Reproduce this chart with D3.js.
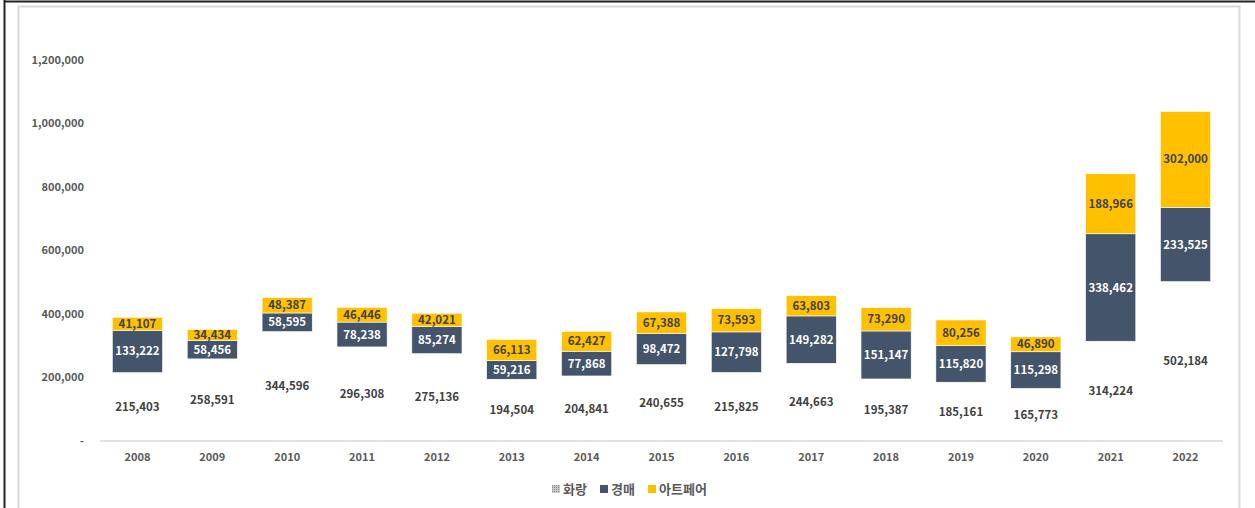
<!DOCTYPE html>
<html>
<head>
<meta charset="utf-8">
<script src="https://cdn.jsdelivr.net/npm/d3@7"></script>
<style>
  body { margin: 0; background: #fff; }
  svg { display: block; font-family: "Noto Sans CJK KR", "Noto Sans", sans-serif; }
</style>
</head>
<body>
<div id="chart"></div>
<script>
// data
var years = ["2008","2009","2010","2011","2012","2013","2014","2015","2016","2017","2018","2019","2020","2021","2022"];
var gallery = [215403,258591,344596,296308,275136,194504,204841,240655,215825,244663,195387,185161,165773,314224,502184];
var auction = [133222,58456,58595,78238,85274,59216,77868,98472,127798,149282,151147,115820,115298,338462,233525];
var artfair = [41107,34434,48387,46446,42021,66113,62427,67388,73593,63803,73290,80256,46890,188966,302000];
var seriesNames = ["화랑","경매","아트페어"];
var yTicks = [0,200000,400000,600000,800000,1000000,1200000];

var W = 1255, H = 508;
var svg = d3.select("#chart").append("svg").attr("width", W).attr("height", H);

// frame
svg.append("rect").attr("x", 18.5).attr("y", 6.5).attr("width", 1221).attr("height", 510)
  .style("fill", "#fff").style("stroke", "#d9d9d9").style("stroke-width", 2);
svg.append("line").attr("x1", 4).attr("x2", W).attr("y1", 1.5).attr("y2", 1.5)
  .style("stroke", "#222").style("stroke-width", 2);
svg.append("line").attr("x1", 4.5).attr("x2", 4.5).attr("y1", 0).attr("y2", H)
  .style("stroke", "#222").style("stroke-width", 2);

var defs = svg.append("defs");
var pat = defs.append("pattern").attr("id", "hatch").attr("patternUnits", "userSpaceOnUse")
  .attr("width", 2).attr("height", 2);
pat.append("rect").attr("width", 2).attr("height", 2).style("fill", "#c8c8c8");
pat.append("rect").attr("width", 1).attr("height", 1).style("fill", "#8c8c8c");

var x = d3.scaleBand().domain(years).range([100, 1223]).paddingInner(0.33).paddingOuter(0.165);
var y = d3.scaleLinear().domain([0, 1200000]).range([441, 60]);
var fmt = d3.format(",");

// y axis labels
svg.append("g").selectAll("text").data(yTicks).enter().append("text")
  .attr("x", 84).attr("y", function(d) { return y(d); })
  .attr("dy", "0.35em").attr("text-anchor", "end")
  .style("font-size", "11px").style("font-weight", "bold").style("fill", "#595959")
  .text(function(d) { return d === 0 ? "-" : fmt(d); });

// x axis
svg.append("line").attr("x1", 100).attr("x2", 1223).attr("y1", y(0)).attr("y2", y(0))
  .style("stroke", "#d9d9d9").style("stroke-width", 1.5);
svg.append("g").selectAll("text").data(years).enter().append("text")
  .attr("x", function(d) { return x(d) + x.bandwidth() / 2; })
  .attr("y", 457).attr("dy", "0.35em").attr("text-anchor", "middle")
  .style("font-size", "11px").style("font-weight", "bold").style("fill", "#595959")
  .text(function(d) { return d; });

// stacked data
var rows = years.map(function(yr, i) {
  return {year: yr, g: gallery[i], a: auction[i], f: artfair[i]};
});
var stack = d3.stack().keys(["g", "a", "f"])(rows);
var fills = ["none", "#44546A", "#FFC000"];
var labelColors = ["#404040", "#ffffff", "#404040"];

stack.forEach(function(layer, k) {
  var g = svg.append("g");
  if (k > 0) {
    g.selectAll("rect").data(layer).enter().append("rect")
      .attr("x", function(d) { return x(d.data.year); })
      .attr("width", x.bandwidth())
      .attr("y", function(d) { return y(d[1]); })
      .attr("height", function(d) { return y(d[0]) - y(d[1]); })
      .style("fill", fills[k])
      .style("stroke", "#ffffff").style("stroke-width", 0.6);
  }
  g.selectAll("text").data(layer).enter().append("text")
    .attr("x", function(d) { return x(d.data.year) + x.bandwidth() / 2; })
    .attr("y", function(d) { return (y(d[0]) + y(d[1])) / 2; })
    .attr("dy", "0.35em").attr("text-anchor", "middle")
    .style("font-size", "11.5px").style("font-weight", "bold").style("fill", labelColors[k])
    .text(function(d) { return fmt(d[1] - d[0]); });
});

// legend
var legendItems = [
  {name: seriesNames[0], fill: "url(#hatch)", x: 552},
  {name: seriesNames[1], fill: "#44546A", x: 600},
  {name: seriesNames[2], fill: "#FFC000", x: 648}
];
var lg = svg.append("g").selectAll("g").data(legendItems).enter().append("g")
  .attr("transform", function(d) { return "translate(" + d.x + ",489)"; });
lg.append("rect").attr("x", 0).attr("y", -4).attr("width", 8).attr("height", 8)
  .style("fill", function(d) { return d.fill; });
lg.append("text").attr("x", 11).attr("y", 0).attr("dy", "0.36em")
  .style("font-size", "13px").style("font-weight", "bold").style("fill", "#595959")
  .text(function(d) { return d.name; });
</script>
</body>
</html>
